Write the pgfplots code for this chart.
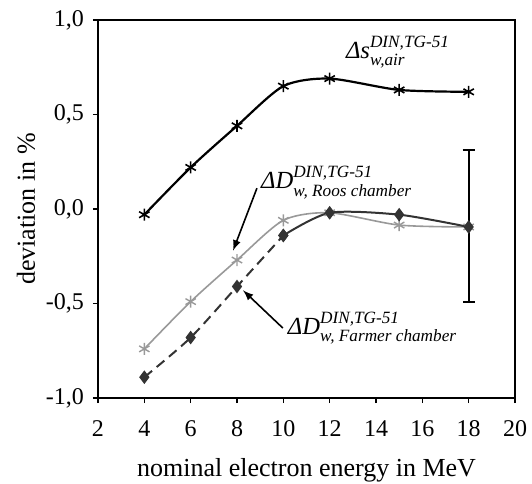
\documentclass[border=0pt]{standalone}
\usepackage{amsmath}
\usepackage{fontspec}
\setmainfont{Liberation Serif}
\usepackage{pgfplots}
\pgfplotsset{compat=1.18}

\begin{document}
\begin{tikzpicture}
\begin{axis}[
    scale only axis,
    width=208.5pt, height=189pt,
    xmin=2, xmax=20, ymin=-1, ymax=1,
    xtick={2,4,...,20},
    ytick={-1,-0.5,0,0.5,1},
    tick align=outside,
    major tick length=2.5pt,
    xtick pos=bottom, ytick pos=left,
    axis line style={line width=0.8pt},
    tick style={line width=0.6pt, black},
    /pgf/number format/assume math mode=true,
    yticklabel style={font=\fontsize{12}{14}\selectfont, xshift=-1pt,
        /pgf/number format/.cd, use comma, fixed, fixed zerofill, precision=1},
    xticklabel style={font=\fontsize{12}{14}\selectfont, anchor=center, yshift=-13pt},
    xlabel={nominal electron energy in MeV},
    ylabel={deviation in \%},
    label style={font=\fontsize{13}{15}\selectfont},
    xlabel style={at={(axis description cs:0.5,0)}, anchor=center, yshift=-36pt},
    ylabel style={at={(axis description cs:0,0.5)}, anchor=center, yshift=36pt},
    clip=false,
]
% Delta s_w,air
\addplot[black, line width=1.1pt, smooth, tension=0.45, mark=asterisk, mark size=3pt,
    mark options={line width=0.8pt}]
    coordinates {(4,-0.03) (6,0.22) (8,0.44) (10,0.65) (12,0.69) (15,0.63) (18,0.62)};
% Roos chamber
\addplot[black!40, line width=0.8pt, smooth, tension=0.45, mark=asterisk, mark size=3pt,
    mark options={line width=0.7pt}]
    coordinates {(4,-0.74) (6,-0.49) (8,-0.27) (10,-0.06) (12,-0.02) (15,-0.085) (18,-0.095)};
% Farmer chamber
\addplot[black!80, line width=1pt, dashed, dash pattern=on 5pt off 3pt, smooth, tension=0.45,
    mark=diamond*, mark size=2.6pt, mark options={solid}]
    coordinates {(4,-0.89) (6,-0.68) (8,-0.41) (10,-0.14)};
\addplot[black!80, line width=1pt, smooth, tension=0.45,
    mark=diamond*, mark size=2.6pt]
    coordinates {(10,-0.14) (12,-0.02) (15,-0.03) (18,-0.095)};
% error bar
\addplot[black, line width=1pt, mark=none, draw=none,
    error bars/.cd, y dir=both, y explicit,
    error bar style={line width=1pt},
    error mark options={rotate=90, mark size=3pt, line width=1pt}]
    coordinates {(18,-0.09) +- (0,0.40)};

\node[font=\fontsize{12.3}{15}\selectfont] at (axis cs:14.95,0.83)
    {$\textit{Δs}^{\textit{DIN,TG-51}}_{\textit{w,air}}$};
\node[font=\fontsize{12.3}{15}\selectfont] at (axis cs:12.3,0.14)
    {$\textit{ΔD}^{\textit{DIN,TG-51}}_{\textit{w, Roos chamber}}$};
\node[font=\fontsize{12.3}{15}\selectfont] at (axis cs:13.85,-0.63)
    {$\textit{ΔD}^{\textit{DIN,TG-51}}_{\textit{w, Farmer chamber}}$};
\draw[-latex, line width=0.8pt] (axis cs:8.86,0.11) -- (axis cs:7.83,-0.22);
\draw[-latex, line width=0.8pt] (axis cs:9.98,-0.63) -- (axis cs:8.26,-0.43);
\end{axis}
\pgfresetboundingbox
\path[use as bounding box] (current axis.south west) ++(-49pt,-42.5pt)
    rectangle ([shift={(8.5pt,10pt)}]current axis.north east);
\end{tikzpicture}
\end{document}
